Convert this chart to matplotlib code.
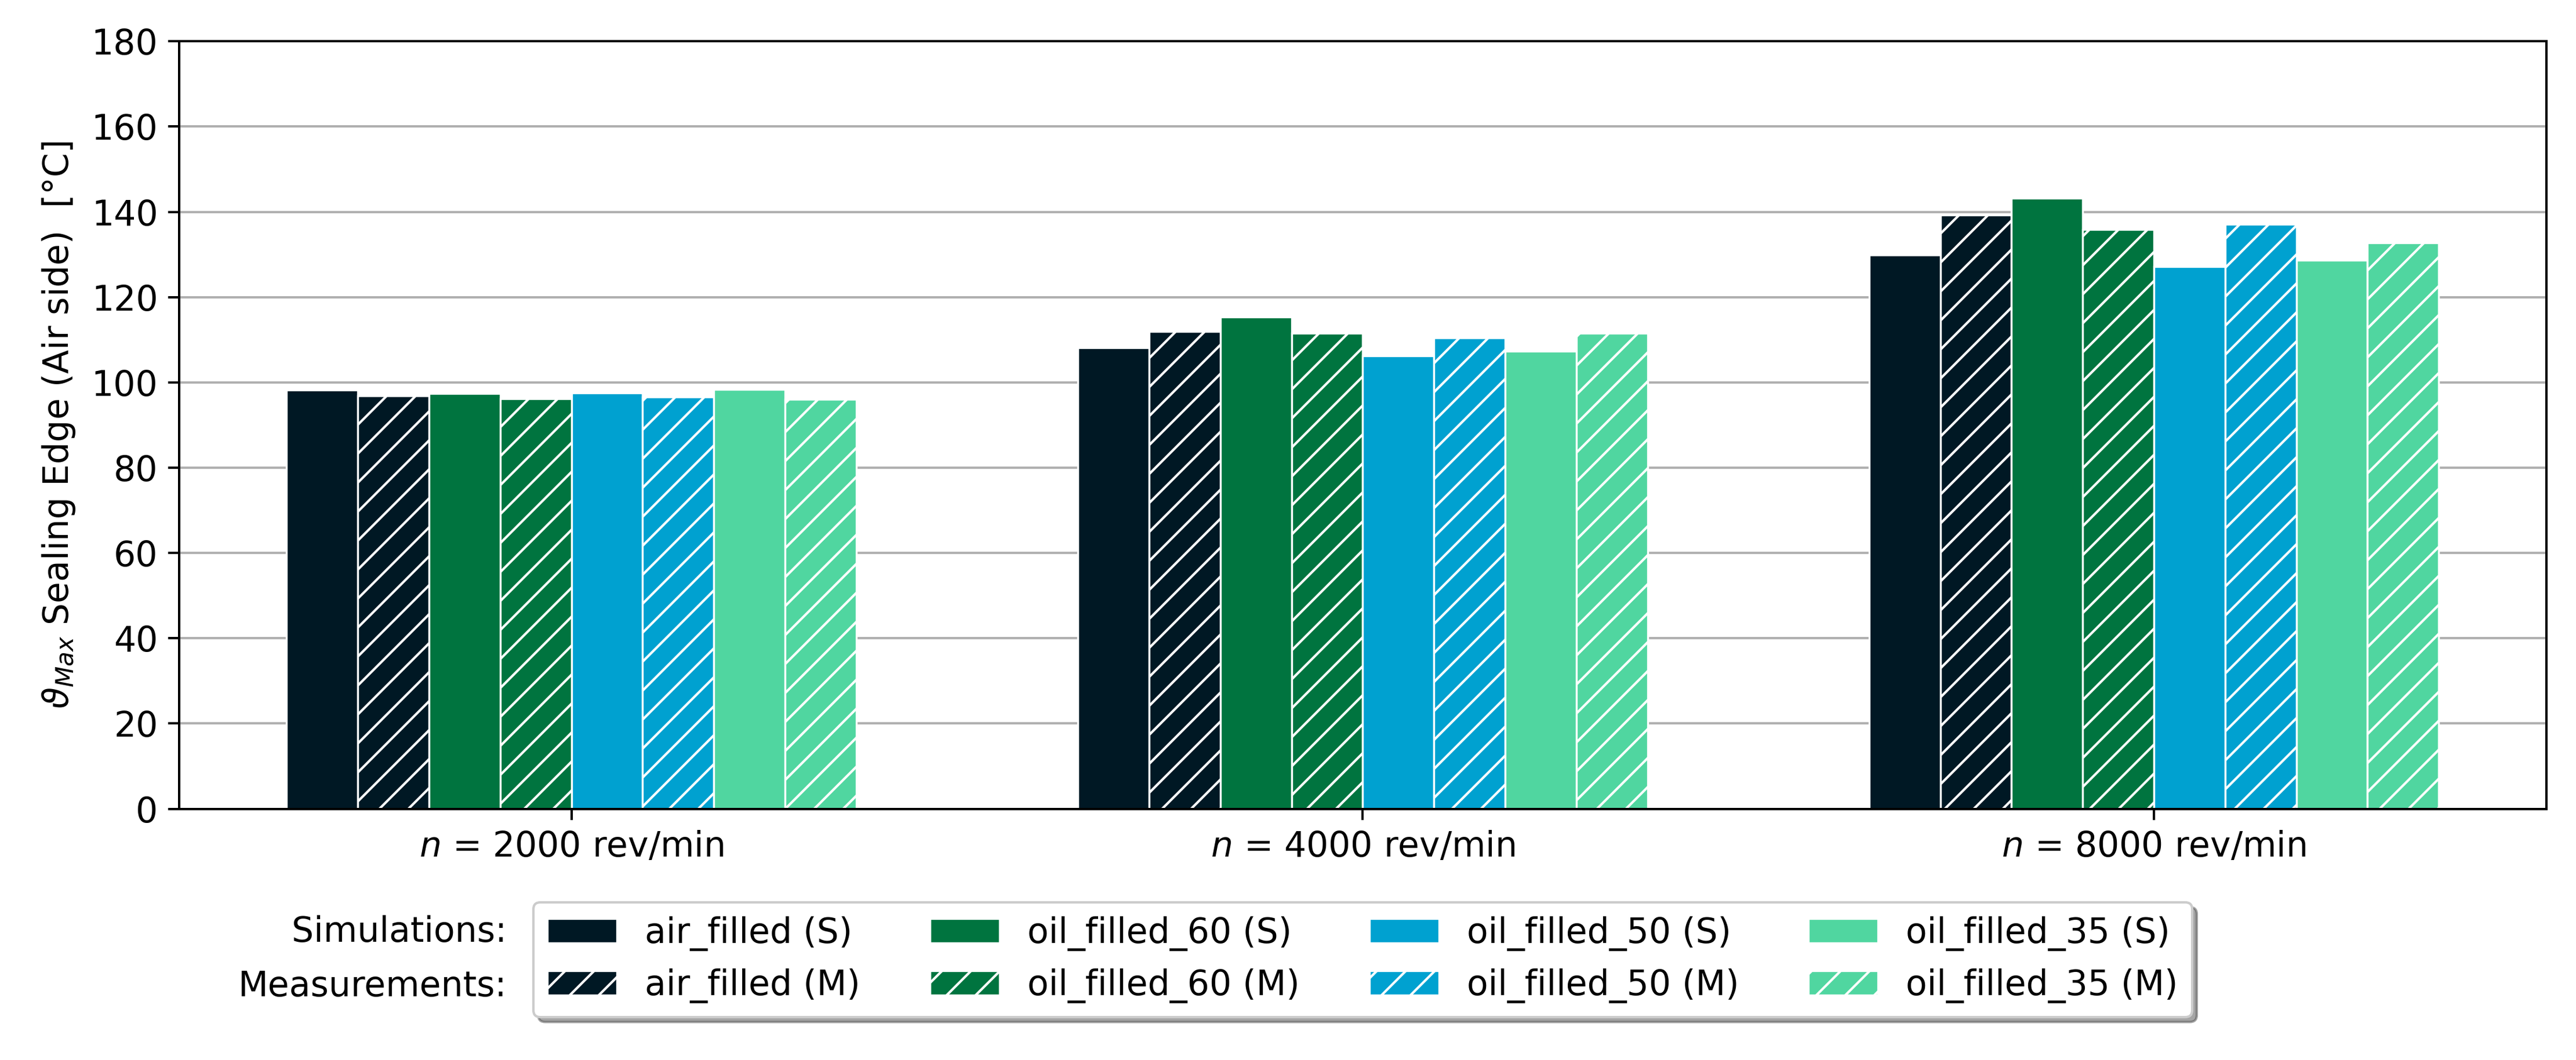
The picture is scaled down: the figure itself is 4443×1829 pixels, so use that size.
import numpy as np
import matplotlib
matplotlib.use('Agg')
import matplotlib.pyplot as plt

speeds = ['$n$ = 2000 rev/min', '$n$ = 4000 rev/min', '$n$ = 8000 rev/min']
variants = ['air_filled', 'oil_filled_60', 'oil_filled_50', 'oil_filled_35']
colors = ['#001824', '#00743F', '#00A1D0', '#50D6A0']

# max. temperature at sealing edge in degC, simulation (S) / measurement (M)
sim_air = [98.2, 108.2, 129.9]
meas_air = [96.9, 111.9, 139.3]
sim_oil60 = [97.4, 115.4, 143.2]
meas_oil60 = [96.2, 111.5, 135.8]
sim_oil50 = [97.5, 106.3, 127.1]
meas_oil50 = [96.6, 110.5, 137.1]
sim_oil35 = [98.3, 107.3, 128.7]
meas_oil35 = [96.1, 111.6, 132.8]

sim = [sim_air, sim_oil60, sim_oil50, sim_oil35]
meas = [meas_air, meas_oil60, meas_oil50, meas_oil35]

plt.rcParams['font.size'] = 14.4
plt.rcParams['axes.linewidth'] = 0.96
plt.rcParams['xtick.major.width'] = 0.96
plt.rcParams['ytick.major.width'] = 0.96
plt.rcParams['xtick.major.size'] = 4.5
plt.rcParams['ytick.major.size'] = 4.5
plt.rcParams['xtick.major.pad'] = 4.2
plt.rcParams['ytick.major.pad'] = 4.2
plt.rcParams['hatch.linewidth'] = 1.0

fig, ax = plt.subplots(figsize=(4443 / 300, 1829 / 300), dpi=300)
fig.subplots_adjust(left=0.0695, right=0.9885, top=0.961, bottom=0.237)

x = np.arange(len(speeds))
w = 0.09
for i in range(len(variants)):
    ax.bar(x + (2 * i - 3.5) * w, sim[i], w, color=colors[i], edgecolor='white',
           linewidth=0.8, label=variants[i] + ' (S)')
    ax.bar(x + (2 * i - 2.5) * w, meas[i], w, color=colors[i], edgecolor='white',
           linewidth=0.8, hatch='//', label=variants[i] + ' (M)')

ax.set_ylim(0, 180)
ax.set_yticks(np.arange(0, 181, 20))
ax.set_xticks(x)
ax.set_xticklabels(speeds)
ax.yaxis.grid(True, color='#b0b0b0', linewidth=0.96)
ax.set_axisbelow(True)
ax.set_ylabel(r'$\vartheta_{Max}$ Sealing Edge (Air side)  [°C]', labelpad=6)

ax.legend(ncol=4, loc='upper center', bbox_to_anchor=(0.5, -0.122),
          borderaxespad=0, shadow=True, fancybox=True)

fig.text(874 / 4443, 1 - 1609 / 1829, 'Simulations:', ha='right', va='center')
fig.text(874 / 4443, 1 - 1702 / 1829, 'Measurements:', ha='right', va='center')

fig.savefig('out.png', dpi=300)
